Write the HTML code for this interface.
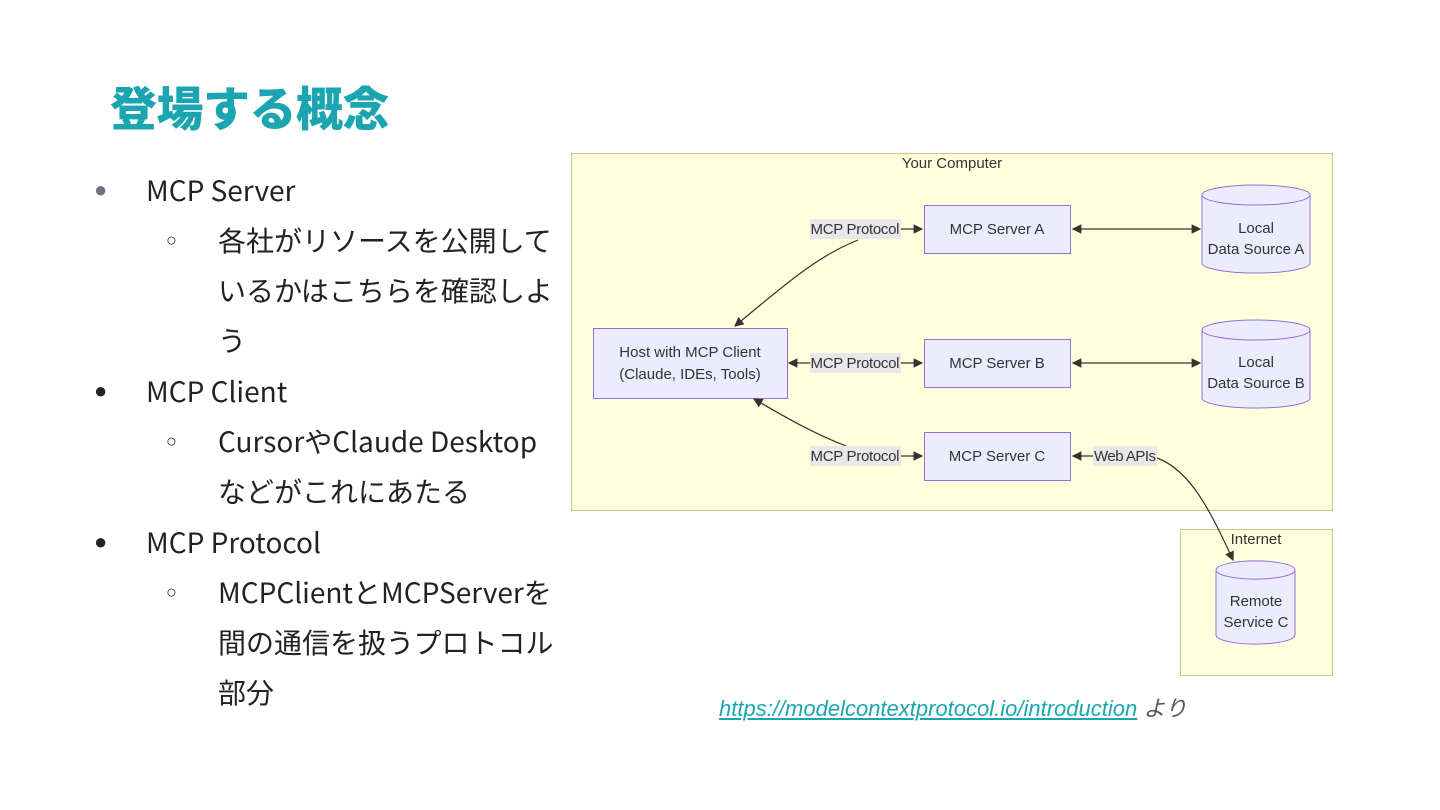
<!DOCTYPE html>
<html><head><meta charset="utf-8"><style>
body{margin:0;width:1440px;height:810px;background:#fff;position:relative;overflow:hidden;font-family:"Liberation Sans","Noto Sans CJK JP",sans-serif;}
.t{position:absolute;white-space:nowrap;color:#222;font-family:"Noto Sans CJK JP","Liberation Sans",sans-serif;font-size:28px;line-height:50px;}
h1{position:absolute;left:110px;top:71px;margin:0;font-size:47px;font-weight:900;color:#1aa5b0;font-family:"Noto Sans CJK JP",sans-serif;letter-spacing:-0.5px;}
.b{position:absolute;font-size:22px;line-height:50px;color:#222;}
svg{position:absolute;left:0;top:0;}
svg text{font-family:"Liberation Sans","DejaVu Sans",sans-serif;font-size:15px;fill:#333;}
</style></head><body>
<h1>登場する概念</h1>
<div class="b" style="left:94px;top:165px;color:#6b7280">●</div>
<div class="t" style="left:146px;top:165px">MCP Server</div>
<div class="b" style="left:166px;top:215px;font-size:18px">○</div>
<div class="t" style="left:218px;top:215px">各社がリソースを公開して<br>いるかはこちらを確認しよ<br>う</div>
<div class="b" style="left:94px;top:366px">●</div>
<div class="t" style="left:146px;top:366px">MCP Client</div>
<div class="b" style="left:166px;top:416px;font-size:18px">○</div>
<div class="t" style="left:218px;top:416px">CursorやClaude Desktop<br>などがこれにあたる</div>
<div class="b" style="left:94px;top:517px">●</div>
<div class="t" style="left:146px;top:517px">MCP Protocol</div>
<div class="b" style="left:166px;top:567px;font-size:18px">○</div>
<div class="t" style="left:218px;top:567px">MCPClientとMCPServerを<br>間の通信を扱うプロトコル<br>部分</div>
<div style="position:absolute;left:719px;top:691px;font-size:22px;font-style:italic;font-family:'Liberation Sans','Noto Sans CJK JP',sans-serif;color:#555;white-space:nowrap"><span style="color:#1aa5b0;text-decoration:underline">https://modelcontextprotocol.io/introduction</span> より</div>
<svg width="1440" height="810">
<defs><marker id="a" markerWidth="8" markerHeight="8" refX="7" refY="4" orient="auto-start-reverse"><path d="M0,0L8,4L0,8z" fill="#333"/></marker></defs>
<rect x="571.5" y="153.5" width="761" height="357" fill="#ffffde" stroke="#c8c880"/>
<text x="952" y="168" text-anchor="middle">Your Computer</text>
<rect x="1180.5" y="529.5" width="152" height="146" fill="#ffffde" stroke="#c8c880"/>
<text x="1256" y="544" text-anchor="middle">Internet</text>
<g fill="#ececff" stroke="#9370db">
<rect x="593.5" y="328.5" width="194" height="70"/>
<rect x="924.5" y="205.5" width="146" height="48"/>
<rect x="924.5" y="339.5" width="146" height="48"/>
<rect x="924.5" y="432.5" width="146" height="48"/>
<path d="M1202,195 a54,10 0 0 1 108,0 v68 a54,10 0 0 1 -108,0z"/><path d="M1202,195 a54,10 0 0 0 108,0" fill="none"/>
<path d="M1202,330 a54,10 0 0 1 108,0 v68 a54,10 0 0 1 -108,0z"/><path d="M1202,330 a54,10 0 0 0 108,0" fill="none"/>
<path d="M1216,570 a39,9 0 0 1 79,0 v65 a39,9 0 0 1 -79,0z"/><path d="M1216,570 a39,9 0 0 0 79,0" fill="none"/>
</g>
<g stroke="#333" stroke-width="1.2" fill="none">
<path d="M901,229H922" marker-end="url(#a)"/>
<path d="M858,240C820,255 790,280 735,326" marker-end="url(#a)"/>
<path d="M789,363H810" marker-start="url(#a)"/>
<path d="M901,363H922" marker-end="url(#a)"/>
<path d="M901,456H922" marker-end="url(#a)"/>
<path d="M846,446C810,432 780,414 754,399" marker-end="url(#a)"/>
<path d="M1073,229H1200" marker-start="url(#a)" marker-end="url(#a)"/>
<path d="M1073,363H1200" marker-start="url(#a)" marker-end="url(#a)"/>
<path d="M1073,456H1093" marker-start="url(#a)"/>
<path d="M1157,458C1190,470 1210,510 1233,560" marker-end="url(#a)"/>
</g>
<g fill="#e8e8e8"><rect x="810" y="219" width="91" height="20"/><rect x="810" y="353" width="91" height="20"/><rect x="810" y="446" width="91" height="20"/><rect x="1093" y="446" width="64" height="20"/></g>
<text x="855" y="234" text-anchor="middle" textLength="89">MCP Protocol</text>
<text x="855" y="368" text-anchor="middle" textLength="89">MCP Protocol</text>
<text x="855" y="461" text-anchor="middle" textLength="89">MCP Protocol</text>
<text x="1125" y="461" text-anchor="middle" textLength="62">Web APIs</text>
<text x="997" y="234" text-anchor="middle">MCP Server A</text>
<text x="997" y="368" text-anchor="middle">MCP Server B</text>
<text x="997" y="461" text-anchor="middle">MCP Server C</text>
<text x="690" y="357" text-anchor="middle">Host with MCP Client</text>
<text x="690" y="379" text-anchor="middle">(Claude, IDEs, Tools)</text>
<text x="1256" y="233" text-anchor="middle">Local</text>
<text x="1256" y="254" text-anchor="middle">Data Source A</text>
<text x="1256" y="367" text-anchor="middle">Local</text>
<text x="1256" y="388" text-anchor="middle">Data Source B</text>
<text x="1256" y="606" text-anchor="middle">Remote</text>
<text x="1256" y="627" text-anchor="middle">Service C</text>
</svg>
</body></html>
